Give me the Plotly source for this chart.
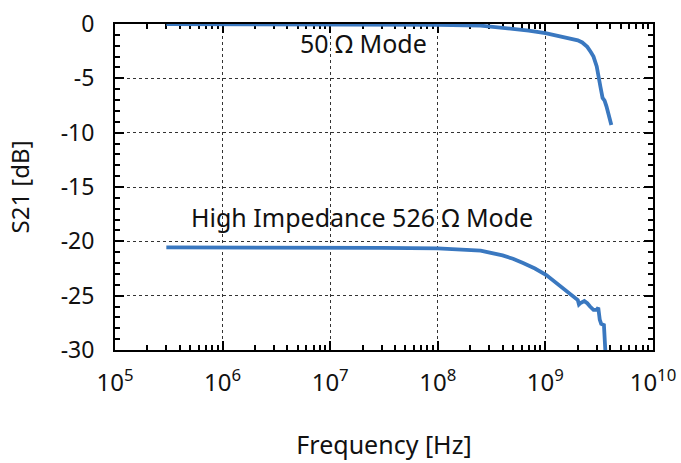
import plotly.graph_objects as go

# 50 Ohm mode
freq_50 = [3e5, 1e6, 3e6, 1e7, 3e7, 1e8, 2.5e8, 5e8, 7e8, 1e9, 1.4e9, 2e9, 2.2e9,
           2.45e9, 2.65e9, 2.8e9, 3.0e9, 3.1e9, 3.25e9, 3.4e9, 3.5e9, 3.55e9,
           3.7e9, 3.9e9, 4.1e9]
s21_50 = [0.0, 0.0, 0.0, -0.02, -0.05, -0.08, -0.15, -0.4, -0.6, -0.85, -1.15, -1.5,
          -1.7, -2.1, -2.6, -3.0, -3.9, -4.85, -5.8, -6.8, -7.0, -7.05,
          -7.6, -8.5, -9.3]

# High impedance 526 Ohm mode
freq_hi = [3e5, 1e6, 3e6, 1e7, 3e7, 1e8, 1.5e8, 2.5e8, 4e8, 5e8, 6.2e8, 8e8, 1.02e9,
           1.4e9, 1.7e9, 2e9, 2.05e9, 2.1e9, 2.3e9, 2.45e9, 2.6e9, 2.8e9, 3.0e9,
           3.1e9, 3.2e9, 3.3e9, 3.5e9, 3.55e9, 3.6e9, 3.65e9]
s21_hi = [-20.55, -20.55, -20.55, -20.55, -20.6, -20.65, -20.75, -20.86, -21.3, -21.6,
          -22.0, -22.5, -23.1, -24.2, -24.8, -25.4, -25.8, -25.7, -25.5, -25.7,
          -26.0, -26.3, -26.3, -26.1, -27.2, -27.6, -27.7, -28.5, -29.7, -31.0]

x_tickvals = [1e5, 1e6, 1e7, 1e8, 1e9, 1e10]
x_ticktext = ["10<sup>5</sup>", "10<sup>6</sup>", "10<sup>7</sup>", "10<sup>8</sup>",
              "10<sup>9</sup>", "10<sup>10</sup>"]
x_minorvals = [m * 10 ** e for e in range(5, 10) for m in range(2, 10)]
y_tickvals = [0, -5, -10, -15, -20, -25, -30]
y_ticktext = ["0", "-5", "-10", "-15", "-20", "-25", "-30"]

line_color = "#3a78c0"
font_family = "Noto Sans, Open Sans, sans-serif"
txt_color = "#111111"

fig = go.Figure()
fig.add_trace(go.Scatter(x=freq_50, y=s21_50, mode="lines",
                         line=dict(color=line_color, width=3.8), showlegend=False))
fig.add_trace(go.Scatter(x=freq_hi, y=s21_hi, mode="lines",
                         line=dict(color=line_color, width=3.8), showlegend=False))
# invisible trace on secondary x axis (carries minor ticks)
fig.add_trace(go.Scatter(x=[1e5], y=[-40], mode="markers", xaxis="x2",
                         marker=dict(opacity=0), showlegend=False, hoverinfo="skip"))

fig.add_annotation(x=7.314, y=-1.75, xref="x", yref="y", text="50 Ω Mode",
                   showarrow=False, font=dict(size=25, color=txt_color))
fig.add_annotation(x=7.30, y=-17.75, xref="x", yref="y", text="High Impedance 526 Ω Mode",
                   showarrow=False, font=dict(size=25, color=txt_color))

fig.update_layout(
    width=681, height=463,
    margin=dict(l=115, r=28, t=24, b=113),
    paper_bgcolor="white", plot_bgcolor="white",
    font=dict(family=font_family, size=23, color=txt_color),
    xaxis=dict(
        type="log", range=[5, 10.0001], automargin=False,
        tickmode="array", tickvals=x_tickvals, ticktext=x_ticktext,
        ticks="inside", ticklen=9, tickwidth=2, tickcolor="black",
        showline=True, linecolor="black", linewidth=2, mirror="ticks",
        showgrid=True, gridcolor="#333333", griddash="dot", gridwidth=1,
        tickfont=dict(size=24), ticklabelstandoff=10,
        title=dict(text="Frequency [Hz]", standoff=40, font=dict(size=25)),
        layer="below traces", zeroline=False,
    ),
    xaxis2=dict(
        type="log", range=[5, 10.0001], overlaying="x", side="bottom", automargin=False,
        tickmode="array", tickvals=x_minorvals, showticklabels=False,
        ticks="inside", ticklen=5, tickwidth=1.5, tickcolor="black",
        showline=False, mirror="ticks", showgrid=False, zeroline=False,
        layer="below traces",
    ),
    yaxis=dict(
        range=[-30, 0], automargin=False,
        tickmode="array", tickvals=y_tickvals, ticktext=y_ticktext,
        ticks="inside", ticklen=9, tickwidth=2, tickcolor="black",
        showline=True, linecolor="black", linewidth=2, mirror="ticks",
        showgrid=True, gridcolor="#333333", griddash="dot", gridwidth=1,
        minor=dict(ticks="inside", ticklen=5, tickwidth=1.5, tickcolor="black",
                   dtick=1, showgrid=False),
        tickfont=dict(size=23), ticklabelstandoff=14,
        title=dict(text="S21 [dB]", standoff=24, font=dict(size=24)),
        layer="below traces", zeroline=False,
    ),
)

fig.write_html("out.html", config={"displayModeBar": False},
               post_script="document.body.style.margin='0';document.body.style.overflow='hidden';")
